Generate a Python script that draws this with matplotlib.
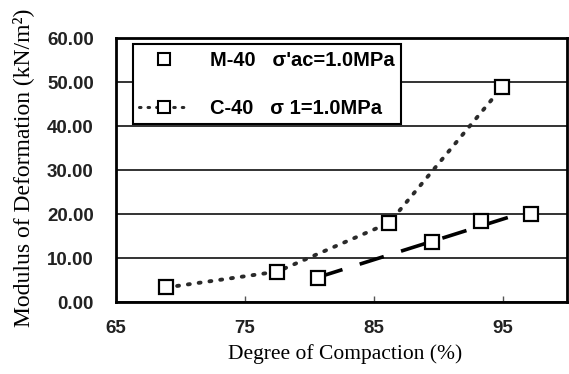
import numpy as np
import matplotlib
matplotlib.use("Agg")
import matplotlib.pyplot as plt
from matplotlib.lines import Line2D

# Data
m40_x = [80.7, 89.5, 93.35, 97.2]
m40_y = [5.4, 13.7, 18.5, 20.0]
c40_x = [68.9, 77.5, 86.2, 94.95]
c40_y = [3.3, 6.9, 18.0, 48.8]
m40_label = "M-40   σ'ac=1.0MPa"
c40_label = "C-40   σ 1=1.0MPa"
x_ticks = [65, 75, 85, 95]
y_ticks = [0, 10, 20, 30, 40, 50, 60]

fig = plt.figure(figsize=(5.69, 3.74), dpi=100)
ax = fig.add_axes([0.204, 0.1925, 0.7925, 0.7055])
ax.set_xlim(65, 100)
ax.set_ylim(0, 60)

ax.set_yticks(y_ticks)
ax.set_yticklabels([f"{v:.2f}" for v in y_ticks])
ax.set_xticks(x_ticks)
ax.set_xticklabels([str(v) for v in x_ticks])
ax.yaxis.grid(True, color="#333333", linewidth=1.4)
ax.set_axisbelow(True)
for s in ax.spines.values():
    s.set_linewidth(2.0)
    s.set_color("black")
ax.tick_params(axis="y", length=0, pad=16)
ax.tick_params(axis="x", direction="in", length=4, width=1, pad=13, color="#555555")

for lab in ax.get_xticklabels() + ax.get_yticklabels():
    lab.set_fontfamily("Liberation Sans")
    lab.set_fontweight("bold")
    lab.set_fontsize(13.5)
    lab.set_color("#222222")

dot_style = (0, (0.5, 2.3))

# C-40 dotted line
ax.plot(c40_x, c40_y, linestyle=dot_style, color="#2a2a2a", linewidth=2.8,
        dash_capstyle="round", zorder=3)
ax.plot(c40_x, c40_y, linestyle="none", marker="s", markersize=10,
        markerfacecolor="white", markeredgecolor="black", markeredgewidth=1.6, zorder=4)

# M-40 linear trend line (dashed)
coef = np.polyfit(m40_x, m40_y, 1)
tx = np.array([min(m40_x), max(m40_x)])
ax.plot(tx, np.polyval(coef, tx), linestyle=(0, (7, 5)), color="black", linewidth=2.6, zorder=3)
ax.plot(m40_x, m40_y, linestyle="none", marker="s", markersize=10,
        markerfacecolor="white", markeredgecolor="black", markeredgewidth=1.6, zorder=4)

# legend
h1 = Line2D([], [], linestyle="none", marker="s", markersize=8,
            markerfacecolor="white", markeredgecolor="black", markeredgewidth=1.5)
h2 = Line2D([], [], linestyle=dot_style, color="#2a2a2a", linewidth=2.2,
            dash_capstyle="round", marker="s", markersize=8,
            markerfacecolor="white", markeredgecolor="black", markeredgewidth=1.5)
leg = ax.legend([h1, h2], [m40_label, c40_label], loc="upper left",
                bbox_to_anchor=(0.037, 0.977), frameon=True, fancybox=False,
                edgecolor="black", framealpha=1, borderpad=0.32, labelspacing=1.45,
                handlelength=2.5, handletextpad=1.0, borderaxespad=0,
                prop=dict(family=["Liberation Sans", "DejaVu Sans"], weight="bold", size=14.5))
leg.get_frame().set_linewidth(1.5)

ax.set_xlabel("Degree of Compaction (%)", family="Liberation Serif", fontsize=15.5)
ax.xaxis.set_label_coords(0.508, -0.16)
ax.set_ylabel("Modulus of Deformation (kN/m²)", family="Liberation Serif", fontsize=17)
ax.yaxis.set_label_coords(-0.182, 0.51)

fig.savefig("out.png", dpi=100)
